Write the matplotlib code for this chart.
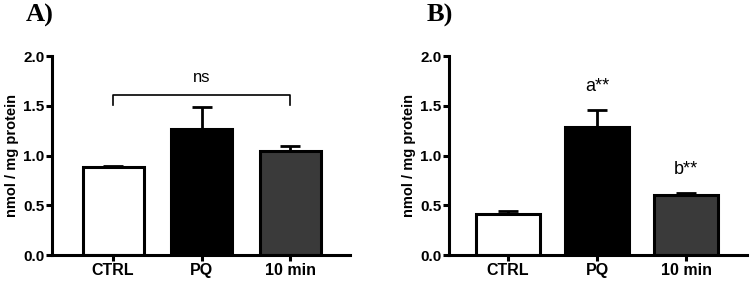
import numpy as np
import matplotlib.pyplot as plt

groups = ["CTRL", "PQ", "10 min"]
bar_colors = ["white", "black", "#3a3a3a"]

mean_a = [0.89, 1.27, 1.05]
err_a = [0.01, 0.22, 0.05]

mean_b = [0.41, 1.29, 0.60]
err_b = [0.03, 0.17, 0.02]

sig_b = ["", "a**", "b**"]

plt.rcParams["font.family"] = ["Liberation Sans", "DejaVu Sans"]

fig = plt.figure(figsize=(7.5, 2.82), dpi=100)
ax_a = fig.add_axes([0.0693, 0.0957, 0.398, 0.705])
ax_b = fig.add_axes([0.599, 0.0957, 0.397, 0.705])


def draw_panel(ax, means, errs, width, xlim):
    x = np.arange(len(groups))
    ax.bar(x, means, width=width, color=bar_colors, edgecolor="black",
           linewidth=2.2, zorder=2)
    ax.errorbar(x, means, yerr=[np.zeros(len(errs)), errs], fmt="none",
                ecolor="black", elinewidth=2.0, capsize=7, capthick=2.0, zorder=1)
    ax.set_xlim(*xlim)
    ax.set_ylim(0, 2.0)
    ax.set_yticks([0.0, 0.5, 1.0, 1.5, 2.0])
    ax.set_yticklabels(["0.0", "0.5", "1.0", "1.5", "2.0"])
    ax.set_xticks(x)
    ax.set_xticklabels(groups)
    for side in ["top", "right"]:
        ax.spines[side].set_visible(False)
    for side in ["left", "bottom"]:
        ax.spines[side].set_linewidth(2.2)
    ax.tick_params(axis="both", width=2.2, length=4.5, direction="out", pad=1)
    for lbl in ax.get_xticklabels() + ax.get_yticklabels():
        lbl.set_fontweight("bold")
        lbl.set_fontsize(11)
    for lbl in ax.get_xticklabels():
        lbl.set_fontsize(11.5)
    ax.set_ylabel("nmol / mg protein", fontsize=10.5, fontweight="bold", labelpad=3)


draw_panel(ax_a, mean_a, err_a, 0.69, (-0.69, 2.68))
draw_panel(ax_b, mean_b, err_b, 0.72, (-0.66, 2.68))

# ns bracket over panel A
ax_a.plot([0, 0, 2, 2], [1.51, 1.61, 1.61, 1.51], color="black", linewidth=1.2)
ax_a.text(1, 1.71, "ns", ha="center", va="bottom", fontsize=12)

for i, s in enumerate(sig_b):
    if s:
        ax_b.text(i, mean_b[i] + err_b[i] + 0.15, s, ha="center", va="bottom", fontsize=13)

fig.text(0.053, 0.945, "A)", fontsize=19, fontweight="bold", family="Liberation Serif",
         ha="center", va="center")
fig.text(0.587, 0.945, "B)", fontsize=19, fontweight="bold", family="Liberation Serif",
         ha="center", va="center")

fig.savefig("out.png", dpi=100)
